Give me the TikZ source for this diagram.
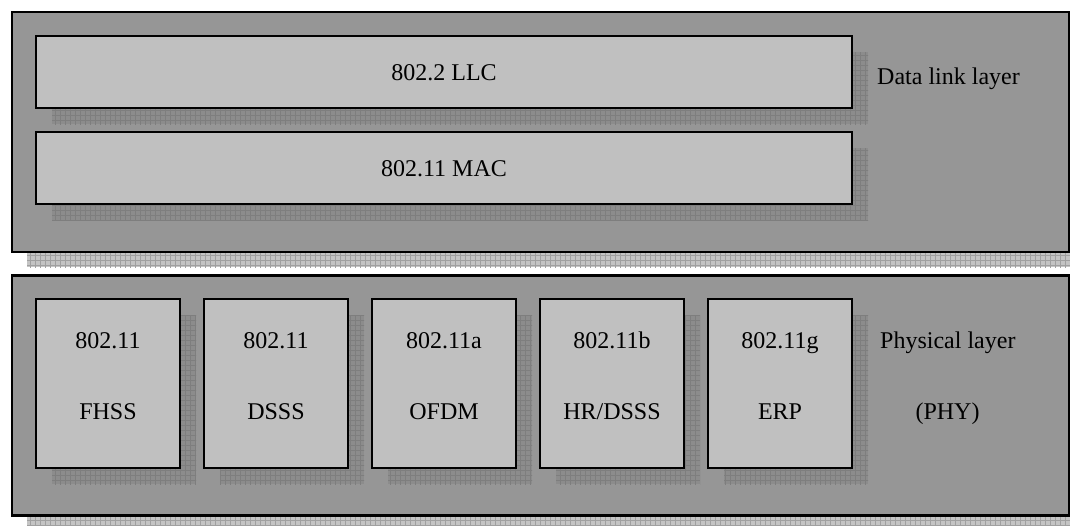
\documentclass[tikz,border=0pt]{standalone}
\usepackage{fontspec}
\setmainfont{Liberation Serif}
\pgfdeclarelayer{outershadow}
\pgfdeclarelayer{outerlayer}
\pgfdeclarelayer{innershadow}
\pgfsetlayers{outershadow,outerlayer,innershadow,main}
\definecolor{outerfill}{RGB}{150,150,150}
\definecolor{innerfill}{RGB}{192,192,192}
\definecolor{ishadowfill}{RGB}{140,140,140}
\definecolor{ishadowline}{RGB}{126,126,126}
\definecolor{oshadowfill}{RGB}{196,196,196}
\definecolor{oshadowline}{RGB}{160,160,160}
\tikzset{
  layerbox/.style={draw=black, line width=2.2pt, fill=outerfill, rectangle,
    minimum width=1057pt, minimum height=240pt, inner sep=0pt, outer sep=0pt},
  macbox/.style={draw=black, line width=2pt, fill=innerfill, rectangle,
    minimum width=816pt, minimum height=72pt, inner sep=0pt, outer sep=0pt},
  phybox/.style={draw=black, line width=2pt, fill=innerfill, rectangle,
    minimum width=144pt, minimum height=169pt, inner sep=0pt, outer sep=0pt},
  txt/.style={font=\fontsize{24}{28}\selectfont, inner sep=0pt, text=black, anchor=base},
}
% grid-textured drop shadow of a node, shifted down and right
\newcommand{\gridshadow}[4]{%
  \begin{scope}
    \clip ([shift={(#2,#2)}]#1.south west) rectangle ([shift={(#2,#2)}]#1.north east);
    \fill[#3] ([shift={(#2,#2)}]#1.south west) rectangle ([shift={(#2,#2)}]#1.north east);
    \draw[#4, line width=0.6pt, step=5pt] ([shift={(#2-5,#2+5)}]#1.south west) grid ([shift={(#2+5,#2-5)}]#1.north east);
  \end{scope}}
\begin{document}
\begin{tikzpicture}[x=1pt, y=-1pt]
\useasboundingbox (0,0) rectangle (1070,525);

% outer layers
\begin{pgfonlayer}{outerlayer}
  \node[layerbox] (dll) at (540.5,132) {};
  \node[layerbox] (phy) at (540.5,395.5) {};
\end{pgfonlayer}
\begin{pgfonlayer}{outershadow}
  \gridshadow{dll}{15}{oshadowfill}{oshadowline}
  \gridshadow{phy}{15}{oshadowfill}{oshadowline}
\end{pgfonlayer}

% data link sublayers
\node[macbox] (llc) at (444,72) {};
\node[macbox] (mac) at (444,168) {};
\node[txt] (llct) at (444,80) {802.2 LLC};
\node[txt] (mact) at (444,176) {802.11 MAC};

% physical layer variants
\node[phybox] (fhss) at (108,383.5) {};
\node[phybox] (dsss) at (276,383.5) {};
\node[phybox] (ofdm) at (444,383.5) {};
\node[phybox] (hrds) at (612,383.5) {};
\node[phybox] (erp)  at (780,383.5) {};

\begin{pgfonlayer}{innershadow}
  \foreach \n in {llc,mac,fhss,dsss,ofdm,hrds,erp}{\gridshadow{\n}{16}{ishadowfill}{ishadowline}}
\end{pgfonlayer}

\node[txt] (fhss1) at (108,348) {802.11};
\node[txt] (fhss2) at (108,419) {FHSS};
\node[txt] (dsss1) at (276,348) {802.11};
\node[txt] (dsss2) at (276,419) {DSSS};
\node[txt] (ofdm1) at (444,348) {802.11a};
\node[txt] (ofdm2) at (444,419) {OFDM};
\node[txt] (hrds1) at (612,348) {802.11b};
\node[txt] (hrds2) at (612,419) {HR/DSSS};
\node[txt] (erp1)  at (780,348) {802.11g};
\node[txt] (erp2)  at (780,419) {ERP};

% layer labels
\node[txt, anchor=base west] (dlll) at (877,84) {Data link layer};
\node[txt, anchor=base west] (phyl) at (880,348) {Physical layer};
\node[txt] (phyl2) at (947.5,419) {(PHY)};
\end{tikzpicture}
\end{document}
